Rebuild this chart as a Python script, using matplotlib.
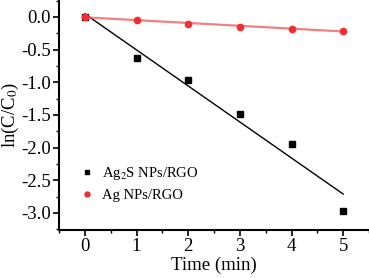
import numpy as np
import matplotlib.pyplot as plt

plt.rcParams['font.family'] = ['Liberation Serif', 'DejaVu Serif']
plt.rcParams['mathtext.fontset'] = 'stix'

t = [0, 1, 2, 3, 4, 5]
ag2s = [0.0, -0.63, -0.96, -1.49, -1.94, -2.97]
ag = [0.0, -0.04, -0.10, -0.15, -0.18, -0.21]

fig = plt.figure(figsize=(3.69, 2.78), dpi=100)
ax = fig.add_axes([0.16, 0.173, 0.84, 0.827])

# linear fits
k1, b1 = np.polyfit(t, ag2s, 1)
k2, b2 = np.polyfit(t, ag, 1)
tt = np.array([t[0], t[-1]])
ax.plot(tt, k1 * tt + b1, color='black', lw=1.0)
ax.plot(tt, k2 * tt + b2, color='#f06060', lw=1.6, alpha=0.8)

ax.plot(t, ag2s, 's', color='black', ms=4, label='Ag$_2$S NPs/RGO')
ax.plot(t, ag, 'o', color='#f03030', ms=4.5, label='Ag NPs/RGO')

ax.set_xlim(-0.5, 5.5)
ax.set_ylim(-3.26, 0.26)
ax.set_xticks(range(6))
ax.set_yticks(np.arange(-3.0, 0.01, 0.5))
ax.set_yticklabels(['%.1f' % v for v in np.arange(-3.0, 0.01, 0.5)])
ax.set_xticks(np.arange(-0.5, 5.6, 0.5), minor=True)
ax.set_yticks(np.arange(-3.25, 0.26, 0.25), minor=True)
ax.tick_params(labelsize=13.5, width=1.2, length=4, direction='out', pad=2)
ax.tick_params(which='minor', length=2.5, width=1.0)
for s in ['top', 'right']:
    ax.spines[s].set_visible(False)
for s in ['left', 'bottom']:
    ax.spines[s].set_linewidth(1.5)

ax.set_xlabel('Time (min)', fontsize=13.5, labelpad=1)
ax.set_ylabel('ln(C/C$_0$)', fontsize=13.5)
ax.yaxis.set_label_coords(-0.122, 0.5)
ax.legend(loc='lower left', bbox_to_anchor=(0.02, 0.065), frameon=False,
          fontsize=10.5, handletextpad=0.4, handlelength=1.2, labelspacing=0.45,
          markerscale=0.8)

fig.savefig('out.png', dpi=100)
